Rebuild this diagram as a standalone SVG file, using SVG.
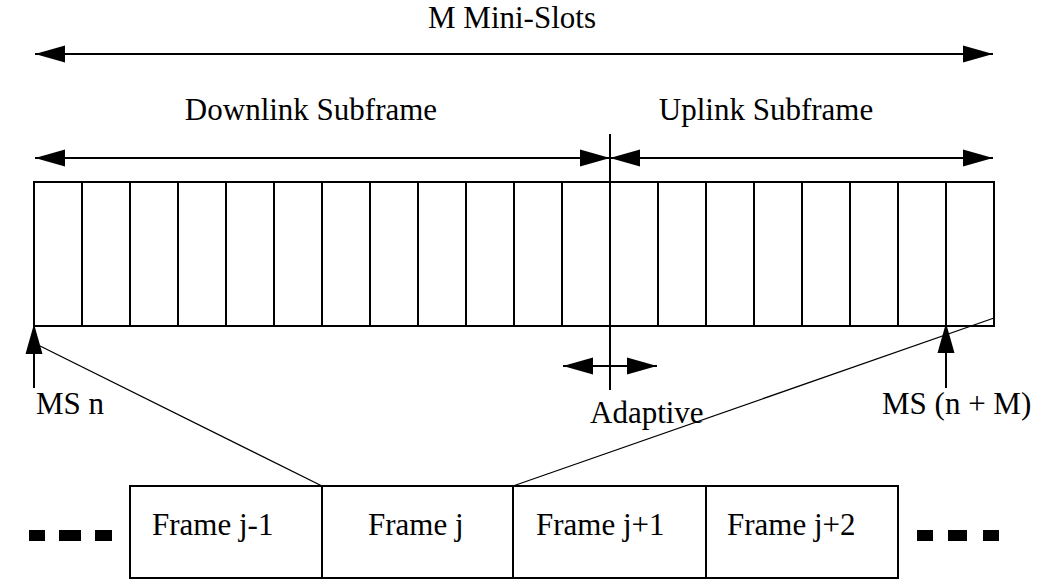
<svg xmlns="http://www.w3.org/2000/svg" width="1058" height="584" viewBox="0 0 1058 584">
  <style>
    .lbl { font-family: "Liberation Serif", "Times New Roman", serif; font-size: 31px; fill: #000; }
    .mid { text-anchor: middle; }
    .thick { stroke: #000; stroke-width: 2; fill: none; }
    .thin { stroke: #000; stroke-width: 1.3; fill: none; }
    .arrow { stroke: #000; stroke-width: 2; fill: none; marker-end: url(#head); }
    .arrow2 { stroke: #000; stroke-width: 2; fill: none; marker-start: url(#head); marker-end: url(#head); }
    .box { fill: #fff; stroke: #000; stroke-width: 2; }
  </style>
  <defs>
    <marker id="head" markerUnits="userSpaceOnUse" markerWidth="32" markerHeight="20" viewBox="0 -10 32 20" refX="30" refY="0" orient="auto-start-reverse">
      <path d="M0,-8.5 L30,0 L0,8.5 z" fill="#000"/>
    </marker>
  </defs>

  <rect width="1058" height="584" fill="#fff"/>

  <!-- span labels -->
  <text class="lbl mid" x="512" y="28">M Mini-Slots</text>
  <text class="lbl mid" x="311" y="120">Downlink Subframe</text>
  <text class="lbl mid" x="766" y="120">Uplink Subframe</text>

  <!-- mini-slot strip: 20 cells of 48px -->
  <g id="minislots">
    <rect class="thick" x="34" y="182" width="960" height="144"/>
    <path class="thick" d="M82,182V326 M130,182V326 M178,182V326 M226,182V326 M274,182V326 M322,182V326 M370,182V326 M418,182V326 M466,182V326 M514,182V326 M562,182V326 M658,182V326 M706,182V326 M754,182V326 M802,182V326 M850,182V326 M898,182V326 M946,182V326"/>
  </g>

  <!-- frame sequence -->
  <g id="frame-j-1">
    <rect class="box" x="130" y="486" width="192" height="92"/>
    <text class="lbl" x="152" y="535">Frame j-1</text>
  </g>
  <g id="frame-j">
    <rect class="box" x="322" y="486" width="191" height="92"/>
    <text class="lbl" x="368" y="535">Frame j</text>
  </g>
  <g id="frame-j+1">
    <rect class="box" x="513" y="486" width="193" height="92"/>
    <text class="lbl" x="536" y="535">Frame j+1</text>
  </g>
  <g id="frame-j+2">
    <rect class="box" x="706" y="486" width="192" height="92"/>
    <text class="lbl" x="727" y="535">Frame j+2</text>
  </g>

  <!-- continuation marks -->
  <g id="more-left" fill="#000">
    <rect x="29" y="530" width="16" height="11"/>
    <rect x="59" y="530" width="22" height="11"/>
    <rect x="95" y="530" width="17" height="11"/>
  </g>
  <g id="more-right" fill="#000">
    <rect x="917" y="530" width="16" height="11"/>
    <rect x="948" y="530" width="19" height="11"/>
    <rect x="983" y="530" width="16" height="11"/>
  </g>

  <!-- connectors -->
  <g id="connectors">
    <line class="arrow2" x1="35" y1="54" x2="993" y2="54"/>
    <line class="arrow2" x1="35" y1="158" x2="610" y2="158"/>
    <line class="arrow2" x1="610" y1="158" x2="993" y2="158"/>
    <line class="thick" x1="610" y1="134" x2="610" y2="390"/>
    <line class="arrow2" x1="563" y1="366" x2="657" y2="366"/>
    <line class="arrow" x1="34" y1="388" x2="34" y2="324"/>
    <line class="arrow" x1="946" y1="388" x2="946" y2="323"/>
    <line class="thin" x1="34" y1="343" x2="322" y2="486"/>
    <line class="thin" x1="513" y1="486" x2="994" y2="318"/>
  </g>

  <!-- point labels -->
  <text class="lbl" x="36" y="414">MS n</text>
  <text class="lbl" x="590" y="423">Adaptive</text>
  <text class="lbl" x="882" y="414">MS (n + M)</text>
</svg>
